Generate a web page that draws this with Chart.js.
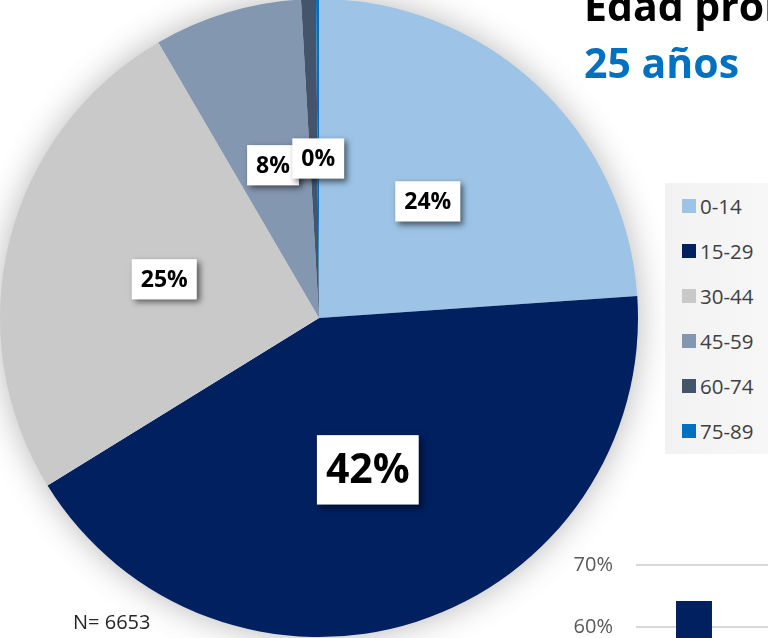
<!DOCTYPE html>
<html>
<head>
<meta charset="utf-8">
<script src="https://cdn.jsdelivr.net/npm/chart.js@4.4.0/dist/chart.umd.min.js"></script>
<style>
  html, body { margin:0; padding:0; width:768px; height:638px; overflow:hidden; background:#fff; font-family:"Open Sans", sans-serif; }
  #pieWrap { position:absolute; left:-31px; top:-32px; width:700px; height:700px; }
  #barWrap { position:absolute; left:540px; top:530px; width:328px; height:194px; }
  .title { position:absolute; left:584px; font-weight:bold; font-size:41px; line-height:41px; white-space:nowrap; }
  #t1 { top:-15px; color:#000; }
  #t2 { top:42px; color:#0070C0; }
  #legend { position:absolute; left:665px; top:183px; width:103px; height:271px; background:linear-gradient(90deg,#F2F2F2,#F7F7F7); }
  .item { height:45px; display:flex; align-items:center; font-size:20.5px; color:#404040; }
  .item span.sw { width:14px; height:14px; margin-left:17px; margin-right:4px; }
  #n { position:absolute; left:73px; top:612px; font-size:20px; line-height:20px; color:#262626; }
</style>
</head>
<body>
<div id="barWrap"><canvas id="bar" width="328" height="194"></canvas></div>
<div id="pieWrap"><canvas id="pie" width="700" height="700"></canvas></div>
<div class="title" id="t1">Edad promedio</div>
<div class="title" id="t2">25 años</div>
<div id="legend"></div>
<div id="n">N= 6653</div>
<script>
// age groups and share of respondents (%)
const ageGroups = ['0-14','15-29','30-44','45-59','60-74','75-89'];
const shares = [23.9, 42.3, 25.4, 7.5, 0.75, 0.15];
const sliceColors = ['#9DC3E6','#002060','#C9C9C9','#8497B0','#44546A','#0070C0'];
const hiddenLabels = ['60-74'];

// fragment of the next chart (bottom right), only the first bar is visible
const barCats = ['', ''];
const barValues = [64.2, null];
const barTicks = [50, 60, 70];

// legend
const legend = document.getElementById('legend');
ageGroups.forEach((g,i)=>{
  const row = document.createElement('div'); row.className='item';
  const sw = document.createElement('span'); sw.className='sw'; sw.style.background=sliceColors[i];
  row.appendChild(sw); row.appendChild(document.createTextNode(g));
  legend.appendChild(row);
});

// soft glow under the pie
const pieShadow = {
  id:'pieShadow',
  beforeDatasetsDraw(chart){
    const arc = chart.getDatasetMeta(0).data[0];
    if (!arc) return;
    const ctx = chart.ctx;
    ctx.save();
    ctx.shadowColor='rgba(0,0,0,0.3)'; ctx.shadowBlur=34;
    ctx.fillStyle='#fff';
    ctx.beginPath(); ctx.arc(arc.x, arc.y, arc.outerRadius-1, 0, Math.PI*2); ctx.fill();
    ctx.restore();
  }
};

// white boxed percentage labels
const boxLabels = {
  id:'boxLabels',
  afterDatasetsDraw(chart){
    const ctx = chart.ctx;
    const data = chart.data.datasets[0].data;
    const maxV = Math.max(...data);
    chart.getDatasetMeta(0).data.forEach((arc,i)=>{
      if (hiddenLabels.includes(chart.data.labels[i])) return;
      const p = arc.tooltipPosition();
      const fs = data[i]===maxV ? 41 : 23;
      const txt = Math.round(data[i]) + '%';
      ctx.save();
      ctx.font = 'bold '+fs+'px "Open Sans"';
      const w = ctx.measureText(txt).width + 18;
      const h = fs + 2*(fs*0.31+1.5);
      ctx.shadowColor='rgba(0,0,0,0.55)'; ctx.shadowBlur=6; ctx.shadowOffsetX=3; ctx.shadowOffsetY=3;
      ctx.fillStyle='#fff';
      ctx.fillRect(p.x-w/2, p.y-h/2, w, h);
      ctx.shadowColor='transparent';
      ctx.fillStyle='#000'; ctx.textAlign='center'; ctx.textBaseline='middle';
      ctx.fillText(txt, p.x, p.y+1);
      ctx.restore();
    });
  }
};

new Chart(document.getElementById('pie'), {
  type:'pie',
  data:{ labels:ageGroups, datasets:[{ data:shares, backgroundColor:sliceColors, borderWidth:0 }] },
  options:{
    responsive:false, devicePixelRatio:1, animation:false,
    layout:{ padding:31 },
    plugins:{ legend:{display:false}, tooltip:{enabled:false} }
  },
  plugins:[pieShadow, boxLabels]
});

new Chart(document.getElementById('bar'), {
  type:'bar',
  data:{ labels:barCats, datasets:[{ data:barValues, backgroundColor:'#002060', barPercentage:0.62, categoryPercentage:0.5 }] },
  options:{
    responsive:false, maintainAspectRatio:false, devicePixelRatio:1, animation:false,
    layout:{ autoPadding:false, padding:{ top:20, left:0, right:0, bottom:0 } },
    plugins:{ legend:{display:false}, tooltip:{enabled:false} },
    scales:{
      x:{ display:false },
      y:{
        min:barTicks[0], max:barTicks[barTicks.length-1],
        afterFit(s){ s.width = 96; },
        afterBuildTicks(s){ s.ticks = barTicks.map(v=>({value:v})); },
        border:{ display:false },
        grid:{ color:'#D9D9D9', lineWidth:2, drawTicks:false },
        ticks:{ padding:23, color:'#595959', font:{ family:'"Open Sans"', size:20 }, callback:v=>v+'%' }
      }
    }
  }
});
</script>
</body>
</html>
